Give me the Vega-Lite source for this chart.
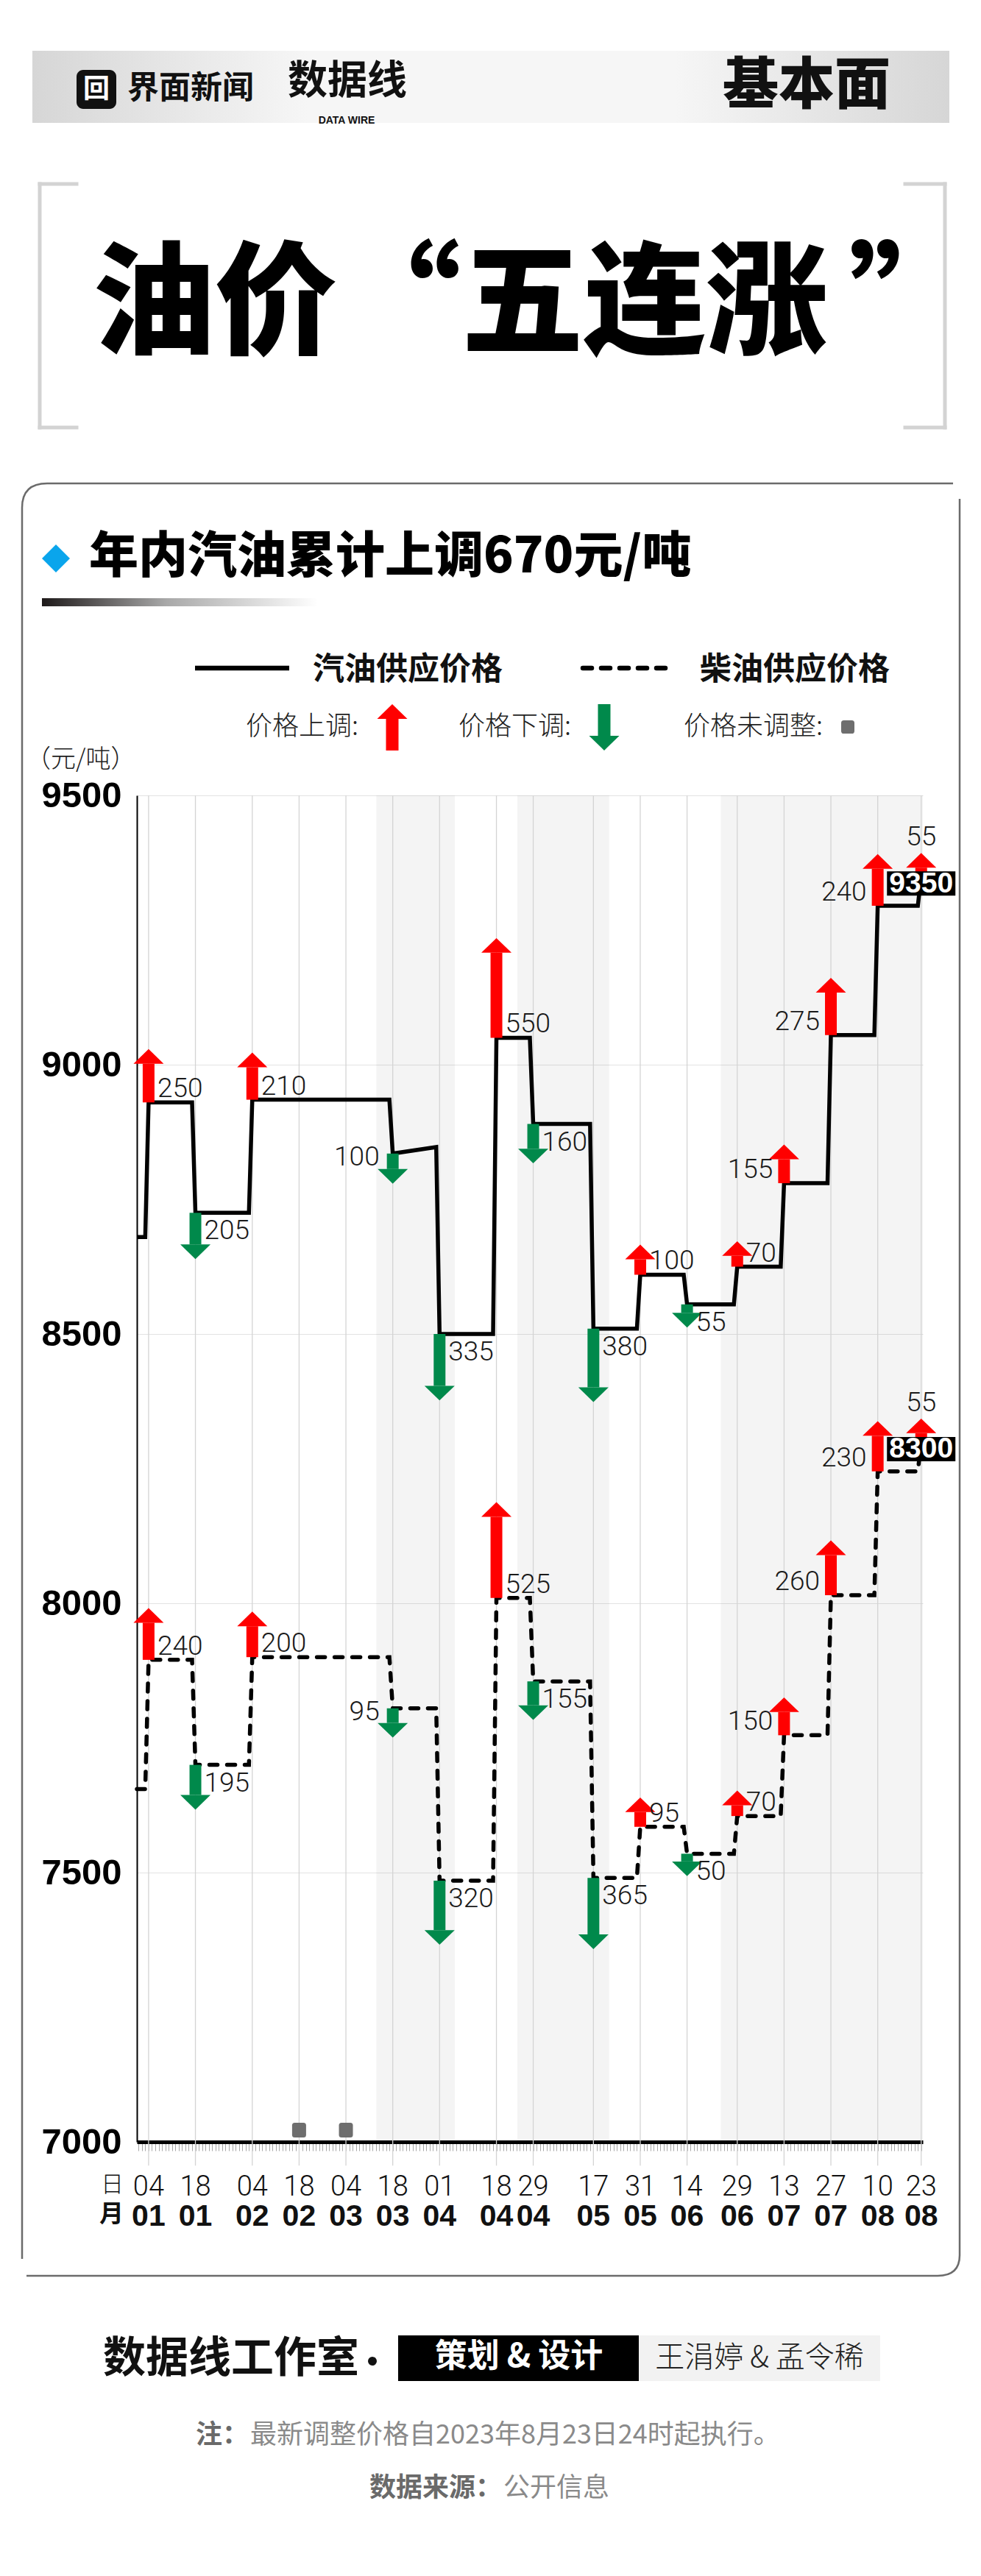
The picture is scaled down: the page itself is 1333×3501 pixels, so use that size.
{
"$schema":"https://vega.github.io/schema/vega-lite/v6.json",
"width":1068,"height":1830,
"autosize":{"type":"none"},
"padding":{"left":186,"top":1081,"right":79,"bottom":590},
"background":"#ffffff",
"config":{"view":{"stroke":null},"text":{"font":"Noto Sans CJK SC"}},
"datasets":{
"adj":[
{"date":"2023-01-04T00:00:00","fuel":"汽油","price":8930,"amount":250,"dir":"up"},
{"date":"2023-01-18T00:00:00","fuel":"汽油","price":8725,"amount":205,"dir":"down"},
{"date":"2023-02-04T00:00:00","fuel":"汽油","price":8935,"amount":210,"dir":"up"},
{"date":"2023-02-18T00:00:00","fuel":"汽油","price":8935,"amount":0,"dir":"flat"},
{"date":"2023-03-04T00:00:00","fuel":"汽油","price":8935,"amount":0,"dir":"flat"},
{"date":"2023-03-18T00:00:00","fuel":"汽油","price":8835,"amount":100,"dir":"down"},
{"date":"2023-04-01T00:00:00","fuel":"汽油","price":8500,"amount":335,"dir":"down"},
{"date":"2023-04-18T00:00:00","fuel":"汽油","price":9050,"amount":550,"dir":"up"},
{"date":"2023-04-29T00:00:00","fuel":"汽油","price":8890,"amount":160,"dir":"down"},
{"date":"2023-05-17T00:00:00","fuel":"汽油","price":8510,"amount":380,"dir":"down"},
{"date":"2023-05-31T00:00:00","fuel":"汽油","price":8610,"amount":100,"dir":"up"},
{"date":"2023-06-14T00:00:00","fuel":"汽油","price":8555,"amount":55,"dir":"down"},
{"date":"2023-06-29T00:00:00","fuel":"汽油","price":8625,"amount":70,"dir":"up"},
{"date":"2023-07-13T00:00:00","fuel":"汽油","price":8780,"amount":155,"dir":"up"},
{"date":"2023-07-27T00:00:00","fuel":"汽油","price":9055,"amount":275,"dir":"up"},
{"date":"2023-08-10T00:00:00","fuel":"汽油","price":9295,"amount":240,"dir":"up"},
{"date":"2023-08-23T00:00:00","fuel":"汽油","price":9350,"amount":55,"dir":"up"},
{"date":"2023-01-04T00:00:00","fuel":"柴油","price":7895,"amount":240,"dir":"up"},
{"date":"2023-01-18T00:00:00","fuel":"柴油","price":7700,"amount":195,"dir":"down"},
{"date":"2023-02-04T00:00:00","fuel":"柴油","price":7900,"amount":200,"dir":"up"},
{"date":"2023-02-18T00:00:00","fuel":"柴油","price":7900,"amount":0,"dir":"flat"},
{"date":"2023-03-04T00:00:00","fuel":"柴油","price":7900,"amount":0,"dir":"flat"},
{"date":"2023-03-18T00:00:00","fuel":"柴油","price":7805,"amount":95,"dir":"down"},
{"date":"2023-04-01T00:00:00","fuel":"柴油","price":7485,"amount":320,"dir":"down"},
{"date":"2023-04-18T00:00:00","fuel":"柴油","price":8010,"amount":525,"dir":"up"},
{"date":"2023-04-29T00:00:00","fuel":"柴油","price":7855,"amount":155,"dir":"down"},
{"date":"2023-05-17T00:00:00","fuel":"柴油","price":7490,"amount":365,"dir":"down"},
{"date":"2023-05-31T00:00:00","fuel":"柴油","price":7585,"amount":95,"dir":"up"},
{"date":"2023-06-14T00:00:00","fuel":"柴油","price":7535,"amount":50,"dir":"down"},
{"date":"2023-06-29T00:00:00","fuel":"柴油","price":7605,"amount":70,"dir":"up"},
{"date":"2023-07-13T00:00:00","fuel":"柴油","price":7755,"amount":150,"dir":"up"},
{"date":"2023-07-27T00:00:00","fuel":"柴油","price":8015,"amount":260,"dir":"up"},
{"date":"2023-08-10T00:00:00","fuel":"柴油","price":8245,"amount":230,"dir":"up"},
{"date":"2023-08-23T00:00:00","fuel":"柴油","price":8300,"amount":55,"dir":"up"}
],
"line":[
{"date":"2022-12-31T12:00:00","fuel":"汽油","price":8680},
{"date":"2023-01-03T00:00:00","fuel":"汽油","price":8680},
{"date":"2023-01-04T00:00:00","fuel":"汽油","price":8930},
{"date":"2023-01-17T00:00:00","fuel":"汽油","price":8930},
{"date":"2023-01-18T00:00:00","fuel":"汽油","price":8725},
{"date":"2023-02-03T00:00:00","fuel":"汽油","price":8725},
{"date":"2023-02-04T00:00:00","fuel":"汽油","price":8935},
{"date":"2023-03-17T00:00:00","fuel":"汽油","price":8935},
{"date":"2023-03-18T00:00:00","fuel":"汽油","price":8835},
{"date":"2023-03-31T00:00:00","fuel":"汽油","price":8847},
{"date":"2023-04-01T00:00:00","fuel":"汽油","price":8500},
{"date":"2023-04-17T00:00:00","fuel":"汽油","price":8500},
{"date":"2023-04-18T00:00:00","fuel":"汽油","price":9050},
{"date":"2023-04-28T00:00:00","fuel":"汽油","price":9050},
{"date":"2023-04-29T00:00:00","fuel":"汽油","price":8890},
{"date":"2023-05-16T00:00:00","fuel":"汽油","price":8890},
{"date":"2023-05-17T00:00:00","fuel":"汽油","price":8510},
{"date":"2023-05-30T00:00:00","fuel":"汽油","price":8510},
{"date":"2023-05-31T00:00:00","fuel":"汽油","price":8610},
{"date":"2023-06-13T00:00:00","fuel":"汽油","price":8610},
{"date":"2023-06-14T00:00:00","fuel":"汽油","price":8555},
{"date":"2023-06-28T00:00:00","fuel":"汽油","price":8555},
{"date":"2023-06-29T00:00:00","fuel":"汽油","price":8625},
{"date":"2023-07-12T00:00:00","fuel":"汽油","price":8625},
{"date":"2023-07-13T00:00:00","fuel":"汽油","price":8780},
{"date":"2023-07-26T00:00:00","fuel":"汽油","price":8780},
{"date":"2023-07-27T00:00:00","fuel":"汽油","price":9055},
{"date":"2023-08-09T00:00:00","fuel":"汽油","price":9055},
{"date":"2023-08-10T00:00:00","fuel":"汽油","price":9295},
{"date":"2023-08-22T00:00:00","fuel":"汽油","price":9295},
{"date":"2023-08-23T00:00:00","fuel":"汽油","price":9350},
{"date":"2022-12-31T12:00:00","fuel":"柴油","price":7655},
{"date":"2023-01-03T00:00:00","fuel":"柴油","price":7655},
{"date":"2023-01-04T00:00:00","fuel":"柴油","price":7895},
{"date":"2023-01-17T00:00:00","fuel":"柴油","price":7895},
{"date":"2023-01-18T00:00:00","fuel":"柴油","price":7700},
{"date":"2023-02-03T00:00:00","fuel":"柴油","price":7700},
{"date":"2023-02-04T00:00:00","fuel":"柴油","price":7900},
{"date":"2023-03-17T00:00:00","fuel":"柴油","price":7900},
{"date":"2023-03-18T00:00:00","fuel":"柴油","price":7805},
{"date":"2023-03-31T00:00:00","fuel":"柴油","price":7805},
{"date":"2023-04-01T00:00:00","fuel":"柴油","price":7485},
{"date":"2023-04-17T00:00:00","fuel":"柴油","price":7485},
{"date":"2023-04-18T00:00:00","fuel":"柴油","price":8010},
{"date":"2023-04-28T00:00:00","fuel":"柴油","price":8010},
{"date":"2023-04-29T00:00:00","fuel":"柴油","price":7855},
{"date":"2023-05-16T00:00:00","fuel":"柴油","price":7855},
{"date":"2023-05-17T00:00:00","fuel":"柴油","price":7490},
{"date":"2023-05-30T00:00:00","fuel":"柴油","price":7490},
{"date":"2023-05-31T00:00:00","fuel":"柴油","price":7585},
{"date":"2023-06-13T00:00:00","fuel":"柴油","price":7585},
{"date":"2023-06-14T00:00:00","fuel":"柴油","price":7535},
{"date":"2023-06-28T00:00:00","fuel":"柴油","price":7535},
{"date":"2023-06-29T00:00:00","fuel":"柴油","price":7605},
{"date":"2023-07-12T00:00:00","fuel":"柴油","price":7605},
{"date":"2023-07-13T00:00:00","fuel":"柴油","price":7755},
{"date":"2023-07-26T00:00:00","fuel":"柴油","price":7755},
{"date":"2023-07-27T00:00:00","fuel":"柴油","price":8015},
{"date":"2023-08-09T00:00:00","fuel":"柴油","price":8015},
{"date":"2023-08-10T00:00:00","fuel":"柴油","price":8245},
{"date":"2023-08-22T00:00:00","fuel":"柴油","price":8245},
{"date":"2023-08-23T00:00:00","fuel":"柴油","price":8300}
],
"bands":[
{"start":"2023-03-13T02:00:00","end":"2023-04-05T14:00:00"},
{"start":"2023-04-24T06:00:00","end":"2023-05-21T17:00:00"},
{"start":"2023-06-24T02:00:00","end":"2023-08-23T12:00:00"}
]
},
"resolve":{"scale":{"x":"independent","y":"independent"}},
"layer":[
{
"data":{"values":[{}]},
"layer":[
{"mark":{"type":"rect","fill":{"gradient":"linear","x1":0,"y1":0,"x2":1,"y2":0,"stops":[{"offset":0,"color":"#d6d6d6"},{"offset":0.3,"color":"#f6f6f6"},{"offset":0.7,"color":"#f6f6f6"},{"offset":1,"color":"#d6d6d6"}]}},
 "encoding":{"x":{"datum":44,"type":"quantitative","scale":{"domain":[186,1254],"nice":false,"zero":false},"axis":null},"x2":{"datum":1290},"y":{"datum":69,"type":"quantitative","scale":{"domain":[1081,2911],"nice":false,"zero":false,"reverse":true},"axis":null},"y2":{"datum":167}}},
{"mark":{"type":"rect","fill":"#111111","cornerRadius":9},
 "encoding":{"x":{"datum":104,"type":"quantitative","scale":{"domain":[186,1254],"nice":false,"zero":false},"axis":null},"x2":{"datum":158},"y":{"datum":95,"type":"quantitative","scale":{"domain":[1081,2911],"nice":false,"zero":false,"reverse":true},"axis":null},"y2":{"datum":148}}},
{"mark":{"type":"text","text":"回","fontSize":36,"fontWeight":700,"color":"#ffffff","align":"center","baseline":"middle"},
 "encoding":{"x":{"datum":131,"type":"quantitative","scale":{"domain":[186,1254],"nice":false,"zero":false},"axis":null},"y":{"datum":122,"type":"quantitative","scale":{"domain":[1081,2911],"nice":false,"zero":false,"reverse":true},"axis":null}}},
{"mark":{"type":"text","text":"界面新闻","fontSize":43,"fontWeight":700,"color":"#111111","align":"left","baseline":"middle"},
 "encoding":{"x":{"datum":173,"type":"quantitative","scale":{"domain":[186,1254],"nice":false,"zero":false},"axis":null},"y":{"datum":121,"type":"quantitative","scale":{"domain":[1081,2911],"nice":false,"zero":false,"reverse":true},"axis":null}}},
{"mark":{"type":"text","text":"数据线","fontSize":54,"fontWeight":700,"color":"#111111","align":"center","baseline":"middle"},
 "encoding":{"x":{"datum":472,"type":"quantitative","scale":{"domain":[186,1254],"nice":false,"zero":false},"axis":null},"y":{"datum":112,"type":"quantitative","scale":{"domain":[1081,2911],"nice":false,"zero":false,"reverse":true},"axis":null}}},
{"mark":{"type":"text","text":"DATA WIRE","font":"Liberation Sans","fontSize":14,"fontWeight":700,"color":"#111111","align":"center","baseline":"middle"},
 "encoding":{"x":{"datum":471,"type":"quantitative","scale":{"domain":[186,1254],"nice":false,"zero":false},"axis":null},"y":{"datum":164,"type":"quantitative","scale":{"domain":[1081,2911],"nice":false,"zero":false,"reverse":true},"axis":null}}},
{"mark":{"type":"text","text":"基本面","fontSize":76,"fontWeight":900,"color":"#111111","align":"center","baseline":"middle"},
 "encoding":{"x":{"datum":1096,"type":"quantitative","scale":{"domain":[186,1254],"nice":false,"zero":false},"axis":null},"y":{"datum":118,"type":"quantitative","scale":{"domain":[1081,2911],"nice":false,"zero":false,"reverse":true},"axis":null}}},
{"mark":{"type":"rule","color":"#d3d3d3","strokeWidth":5,"strokeCap":"square"},
 "encoding":{"x":{"datum":54,"type":"quantitative","scale":{"domain":[186,1254],"nice":false,"zero":false},"axis":null},"x2":{"datum":104},"y":{"datum":250,"type":"quantitative","scale":{"domain":[1081,2911],"nice":false,"zero":false,"reverse":true},"axis":null}}},
{"mark":{"type":"rule","color":"#d3d3d3","strokeWidth":5,"strokeCap":"square"},
 "encoding":{"x":{"datum":54,"type":"quantitative","scale":{"domain":[186,1254],"nice":false,"zero":false},"axis":null},"y":{"datum":250,"type":"quantitative","scale":{"domain":[1081,2911],"nice":false,"zero":false,"reverse":true},"axis":null},"y2":{"datum":581}}},
{"mark":{"type":"rule","color":"#d3d3d3","strokeWidth":5,"strokeCap":"square"},
 "encoding":{"x":{"datum":54,"type":"quantitative","scale":{"domain":[186,1254],"nice":false,"zero":false},"axis":null},"x2":{"datum":104},"y":{"datum":581,"type":"quantitative","scale":{"domain":[1081,2911],"nice":false,"zero":false,"reverse":true},"axis":null}}},
{"mark":{"type":"rule","color":"#d3d3d3","strokeWidth":5,"strokeCap":"square"},
 "encoding":{"x":{"datum":1230,"type":"quantitative","scale":{"domain":[186,1254],"nice":false,"zero":false},"axis":null},"x2":{"datum":1284},"y":{"datum":250,"type":"quantitative","scale":{"domain":[1081,2911],"nice":false,"zero":false,"reverse":true},"axis":null}}},
{"mark":{"type":"rule","color":"#d3d3d3","strokeWidth":5,"strokeCap":"square"},
 "encoding":{"x":{"datum":1284,"type":"quantitative","scale":{"domain":[186,1254],"nice":false,"zero":false},"axis":null},"y":{"datum":250,"type":"quantitative","scale":{"domain":[1081,2911],"nice":false,"zero":false,"reverse":true},"axis":null},"y2":{"datum":581}}},
{"mark":{"type":"rule","color":"#d3d3d3","strokeWidth":5,"strokeCap":"square"},
 "encoding":{"x":{"datum":1230,"type":"quantitative","scale":{"domain":[186,1254],"nice":false,"zero":false},"axis":null},"x2":{"datum":1284},"y":{"datum":581,"type":"quantitative","scale":{"domain":[1081,2911],"nice":false,"zero":false,"reverse":true},"axis":null}}},
{"mark":{"type":"text","text":"油价","fontSize":166,"fontWeight":900,"color":"#000000","align":"left","baseline":"middle"},
 "encoding":{"x":{"datum":126,"type":"quantitative","scale":{"domain":[186,1254],"nice":false,"zero":false},"axis":null},"y":{"datum":418,"type":"quantitative","scale":{"domain":[1081,2911],"nice":false,"zero":false,"reverse":true},"axis":null}}},
{"mark":{"type":"text","text":"“","fontSize":166,"fontWeight":900,"color":"#000000","align":"center","baseline":"middle"},
 "encoding":{"x":{"datum":543,"type":"quantitative","scale":{"domain":[186,1254],"nice":false,"zero":false},"axis":null},"y":{"datum":418,"type":"quantitative","scale":{"domain":[1081,2911],"nice":false,"zero":false,"reverse":true},"axis":null}}},
{"mark":{"type":"text","text":"五连涨","fontSize":166,"fontWeight":900,"color":"#000000","align":"left","baseline":"middle"},
 "encoding":{"x":{"datum":627,"type":"quantitative","scale":{"domain":[186,1254],"nice":false,"zero":false},"axis":null},"y":{"datum":418,"type":"quantitative","scale":{"domain":[1081,2911],"nice":false,"zero":false,"reverse":true},"axis":null}}},
{"mark":{"type":"text","text":"”","fontSize":166,"fontWeight":900,"color":"#000000","align":"center","baseline":"middle"},
 "encoding":{"x":{"datum":1237,"type":"quantitative","scale":{"domain":[186,1254],"nice":false,"zero":false},"axis":null},"y":{"datum":418,"type":"quantitative","scale":{"domain":[1081,2911],"nice":false,"zero":false,"reverse":true},"axis":null}}},
{"mark":{"type":"point","shape":"M-1,1.8776L-1,-1.8587Q-1,-1.9105,-0.9466,-1.9105L0.9859,-1.9105M1,-1.8776L1,1.8697Q1,1.9137,0.9529,1.9137L-0.9906,1.9137","size":1623076,"filled":false,"color":"#6b6b6b","strokeWidth":2.5,"opacity":1},
 "encoding":{"x":{"datum":667,"type":"quantitative","scale":{"domain":[186,1254],"nice":false,"zero":false},"axis":null},"y":{"datum":1874,"type":"quantitative","scale":{"domain":[1081,2911],"nice":false,"zero":false,"reverse":true},"axis":null}}},
{"mark":{"type":"point","shape":"diamond","size":1444,"filled":true,"color":"#0aa5ec","opacity":1,"strokeWidth":0},
 "encoding":{"x":{"datum":76,"type":"quantitative","scale":{"domain":[186,1254],"nice":false,"zero":false},"axis":null},"y":{"datum":759,"type":"quantitative","scale":{"domain":[1081,2911],"nice":false,"zero":false,"reverse":true},"axis":null}}},
{"mark":{"type":"text","text":"年内汽油累计上调670元/吨","fontSize":67,"fontWeight":900,"color":"#000000","align":"left","baseline":"middle"},
 "encoding":{"x":{"datum":121,"type":"quantitative","scale":{"domain":[186,1254],"nice":false,"zero":false},"axis":null},"y":{"datum":758,"type":"quantitative","scale":{"domain":[1081,2911],"nice":false,"zero":false,"reverse":true},"axis":null}}},
{"mark":{"type":"rect","fill":{"gradient":"linear","x1":0,"y1":0,"x2":1,"y2":0,"stops":[{"offset":0,"color":"#1e1a1a"},{"offset":0.45,"color":"#a8a8a8"},{"offset":1,"color":"#ffffff"}]}},
 "encoding":{"x":{"datum":57,"type":"quantitative","scale":{"domain":[186,1254],"nice":false,"zero":false},"axis":null},"x2":{"datum":432},"y":{"datum":813,"type":"quantitative","scale":{"domain":[1081,2911],"nice":false,"zero":false,"reverse":true},"axis":null},"y2":{"datum":824}}},
{"mark":{"type":"rule","color":"#000000","strokeWidth":6.5},
 "encoding":{"x":{"datum":265,"type":"quantitative","scale":{"domain":[186,1254],"nice":false,"zero":false},"axis":null},"x2":{"datum":393},"y":{"datum":908,"type":"quantitative","scale":{"domain":[1081,2911],"nice":false,"zero":false,"reverse":true},"axis":null}}},
{"mark":{"type":"text","text":"汽油供应价格","fontSize":43,"fontWeight":700,"color":"#111111","align":"left","baseline":"middle"},
 "encoding":{"x":{"datum":425,"type":"quantitative","scale":{"domain":[186,1254],"nice":false,"zero":false},"axis":null},"y":{"datum":911,"type":"quantitative","scale":{"domain":[1081,2911],"nice":false,"zero":false,"reverse":true},"axis":null}}},
{"mark":{"type":"rule","color":"#000000","strokeWidth":6.5,"strokeDash":[12,13],"strokeCap":"round"},
 "encoding":{"x":{"datum":792,"type":"quantitative","scale":{"domain":[186,1254],"nice":false,"zero":false},"axis":null},"x2":{"datum":917},"y":{"datum":908,"type":"quantitative","scale":{"domain":[1081,2911],"nice":false,"zero":false,"reverse":true},"axis":null}}},
{"mark":{"type":"text","text":"柴油供应价格","fontSize":43,"fontWeight":700,"color":"#111111","align":"left","baseline":"middle"},
 "encoding":{"x":{"datum":951,"type":"quantitative","scale":{"domain":[186,1254],"nice":false,"zero":false},"axis":null},"y":{"datum":911,"type":"quantitative","scale":{"domain":[1081,2911],"nice":false,"zero":false,"reverse":true},"axis":null}}},
{"mark":{"type":"text","text":"价格上调:","fontSize":36,"fontWeight":300,"color":"#222222","align":"left","baseline":"middle"},
 "encoding":{"x":{"datum":334,"type":"quantitative","scale":{"domain":[186,1254],"nice":false,"zero":false},"axis":null},"y":{"datum":988,"type":"quantitative","scale":{"domain":[1081,2911],"nice":false,"zero":false,"reverse":true},"axis":null}}},
{"mark":{"type":"rule","color":"#ff0000","strokeWidth":17,"strokeCap":"butt"},
 "encoding":{"x":{"datum":533,"type":"quantitative","scale":{"domain":[186,1254],"nice":false,"zero":false},"axis":null},"y":{"datum":977,"type":"quantitative","scale":{"domain":[1081,2911],"nice":false,"zero":false,"reverse":true},"axis":null},"y2":{"datum":1020}}},
{"mark":{"type":"point","shape":"M-1,0L1,0L0,-0.97Z","size":1681,"filled":true,"color":"#ff0000","opacity":1,"strokeWidth":0},
 "encoding":{"x":{"datum":533,"type":"quantitative","scale":{"domain":[186,1254],"nice":false,"zero":false},"axis":null},"y":{"datum":977,"type":"quantitative","scale":{"domain":[1081,2911],"nice":false,"zero":false,"reverse":true},"axis":null}}},
{"mark":{"type":"text","text":"价格下调:","fontSize":36,"fontWeight":300,"color":"#222222","align":"left","baseline":"middle"},
 "encoding":{"x":{"datum":623,"type":"quantitative","scale":{"domain":[186,1254],"nice":false,"zero":false},"axis":null},"y":{"datum":988,"type":"quantitative","scale":{"domain":[1081,2911],"nice":false,"zero":false,"reverse":true},"axis":null}}},
{"mark":{"type":"rule","color":"#00894b","strokeWidth":17,"strokeCap":"butt"},
 "encoding":{"x":{"datum":821,"type":"quantitative","scale":{"domain":[186,1254],"nice":false,"zero":false},"axis":null},"y":{"datum":957,"type":"quantitative","scale":{"domain":[1081,2911],"nice":false,"zero":false,"reverse":true},"axis":null},"y2":{"datum":1000}}},
{"mark":{"type":"point","shape":"M-1,0L1,0L0,0.97Z","size":1681,"filled":true,"color":"#00894b","opacity":1,"strokeWidth":0},
 "encoding":{"x":{"datum":821,"type":"quantitative","scale":{"domain":[186,1254],"nice":false,"zero":false},"axis":null},"y":{"datum":1000,"type":"quantitative","scale":{"domain":[1081,2911],"nice":false,"zero":false,"reverse":true},"axis":null}}},
{"mark":{"type":"text","text":"价格未调整:","fontSize":36,"fontWeight":300,"color":"#222222","align":"left","baseline":"middle"},
 "encoding":{"x":{"datum":929,"type":"quantitative","scale":{"domain":[186,1254],"nice":false,"zero":false},"axis":null},"y":{"datum":988,"type":"quantitative","scale":{"domain":[1081,2911],"nice":false,"zero":false,"reverse":true},"axis":null}}},
{"mark":{"type":"point","shape":"M-0.6,-1L0.6,-1Q1,-1,1,-0.6L1,0.6Q1,1,0.6,1L-0.6,1Q-1,1,-1,0.6L-1,-0.6Q-1,-1,-0.6,-1Z","size":324,"filled":true,"color":"#6e6e6e","opacity":1,"strokeWidth":0},
 "encoding":{"x":{"datum":1152,"type":"quantitative","scale":{"domain":[186,1254],"nice":false,"zero":false},"axis":null},"y":{"datum":988,"type":"quantitative","scale":{"domain":[1081,2911],"nice":false,"zero":false,"reverse":true},"axis":null}}},
{"mark":{"type":"text","text":"（元/吨）","fontSize":34,"fontWeight":300,"color":"#222222","align":"left","baseline":"middle"},
 "encoding":{"x":{"datum":35,"type":"quantitative","scale":{"domain":[186,1254],"nice":false,"zero":false},"axis":null},"y":{"datum":1033,"type":"quantitative","scale":{"domain":[1081,2911],"nice":false,"zero":false,"reverse":true},"axis":null}}},
{"mark":{"type":"text","text":"日","fontSize":31,"fontWeight":300,"color":"#111111","align":"right","baseline":"middle"},
 "encoding":{"x":{"datum":168,"type":"quantitative","scale":{"domain":[186,1254],"nice":false,"zero":false},"axis":null},"y":{"datum":2970,"type":"quantitative","scale":{"domain":[1081,2911],"nice":false,"zero":false,"reverse":true},"axis":null}}},
{"mark":{"type":"text","text":"月","fontSize":33,"fontWeight":700,"color":"#111111","align":"right","baseline":"middle"},
 "encoding":{"x":{"datum":168,"type":"quantitative","scale":{"domain":[186,1254],"nice":false,"zero":false},"axis":null},"y":{"datum":3010,"type":"quantitative","scale":{"domain":[1081,2911],"nice":false,"zero":false,"reverse":true},"axis":null}}},
{"mark":{"type":"text","text":"数据线工作室","fontSize":58,"fontWeight":700,"color":"#111111","align":"left","baseline":"middle"},
 "encoding":{"x":{"datum":140,"type":"quantitative","scale":{"domain":[186,1254],"nice":false,"zero":false},"axis":null},"y":{"datum":3207,"type":"quantitative","scale":{"domain":[1081,2911],"nice":false,"zero":false,"reverse":true},"axis":null}}},
{"mark":{"type":"point","shape":"circle","size":144,"filled":true,"color":"#111111","opacity":1,"strokeWidth":0},
 "encoding":{"x":{"datum":506,"type":"quantitative","scale":{"domain":[186,1254],"nice":false,"zero":false},"axis":null},"y":{"datum":3209,"type":"quantitative","scale":{"domain":[1081,2911],"nice":false,"zero":false,"reverse":true},"axis":null}}},
{"mark":{"type":"rect","fill":"#000000"},
 "encoding":{"x":{"datum":541,"type":"quantitative","scale":{"domain":[186,1254],"nice":false,"zero":false},"axis":null},"x2":{"datum":868},"y":{"datum":3174,"type":"quantitative","scale":{"domain":[1081,2911],"nice":false,"zero":false,"reverse":true},"axis":null},"y2":{"datum":3236}}},
{"mark":{"type":"text","text":"策划 & 设计","fontSize":44,"fontWeight":700,"color":"#ffffff","align":"center","baseline":"middle"},
 "encoding":{"x":{"datum":705,"type":"quantitative","scale":{"domain":[186,1254],"nice":false,"zero":false},"axis":null},"y":{"datum":3204,"type":"quantitative","scale":{"domain":[1081,2911],"nice":false,"zero":false,"reverse":true},"axis":null}}},
{"mark":{"type":"rect","fill":"#f2f2f2"},
 "encoding":{"x":{"datum":868,"type":"quantitative","scale":{"domain":[186,1254],"nice":false,"zero":false},"axis":null},"x2":{"datum":1196},"y":{"datum":3174,"type":"quantitative","scale":{"domain":[1081,2911],"nice":false,"zero":false,"reverse":true},"axis":null},"y2":{"datum":3236}}},
{"mark":{"type":"text","text":"王涓婷 & 孟令稀","fontSize":40,"fontWeight":300,"color":"#222222","align":"center","baseline":"middle"},
 "encoding":{"x":{"datum":1032,"type":"quantitative","scale":{"domain":[186,1254],"nice":false,"zero":false},"axis":null},"y":{"datum":3205,"type":"quantitative","scale":{"domain":[1081,2911],"nice":false,"zero":false,"reverse":true},"axis":null}}},
{"mark":{"type":"text","text":"注：","fontSize":36,"fontWeight":700,"color":"#6a6a6a","align":"right","baseline":"middle"},
 "encoding":{"x":{"datum":338,"type":"quantitative","scale":{"domain":[186,1254],"nice":false,"zero":false},"axis":null},"y":{"datum":3310,"type":"quantitative","scale":{"domain":[1081,2911],"nice":false,"zero":false,"reverse":true},"axis":null}}},
{"mark":{"type":"text","text":"最新调整价格自2023年8月23日24时起执行。","fontSize":36,"fontWeight":400,"color":"#8a8a8a","align":"left","baseline":"middle"},
 "encoding":{"x":{"datum":340,"type":"quantitative","scale":{"domain":[186,1254],"nice":false,"zero":false},"axis":null},"y":{"datum":3310,"type":"quantitative","scale":{"domain":[1081,2911],"nice":false,"zero":false,"reverse":true},"axis":null}}},
{"mark":{"type":"text","text":"数据来源：","fontSize":36,"fontWeight":700,"color":"#6a6a6a","align":"right","baseline":"middle"},
 "encoding":{"x":{"datum":682,"type":"quantitative","scale":{"domain":[186,1254],"nice":false,"zero":false},"axis":null},"y":{"datum":3382,"type":"quantitative","scale":{"domain":[1081,2911],"nice":false,"zero":false,"reverse":true},"axis":null}}},
{"mark":{"type":"text","text":"公开信息","fontSize":36,"fontWeight":400,"color":"#8a8a8a","align":"left","baseline":"middle"},
 "encoding":{"x":{"datum":684,"type":"quantitative","scale":{"domain":[186,1254],"nice":false,"zero":false},"axis":null},"y":{"datum":3382,"type":"quantitative","scale":{"domain":[1081,2911],"nice":false,"zero":false,"reverse":true},"axis":null}}}
]
},
{
"data":{"name":"adj","format":{"parse":{"date":"date"}}},
"layer":[
{"data":{"name":"bands","format":{"parse":{"start":"date","end":"date"}}},
 "mark":{"type":"rect","color":"#000000","opacity":0.045},
 "encoding":{"x":{"field":"start","type":"temporal","title":null,"scale":{"domain":[{"year":2022,"month":12,"date":31,"hours":12},{"year":2023,"month":8,"date":23,"hours":12}]}},"x2":{"field":"end"},
 "y":{"datum":9500,"type":"quantitative","title":null,"scale":{"domain":[7000,9500],"nice":false,"zero":false}},"y2":{"datum":7000}}},
{"transform":[{"filter":"datum.fuel === '汽油'"}],
 "mark":{"type":"rule","color":"#d4d4d4","strokeWidth":1.3},
 "encoding":{"x":{"field":"date","type":"temporal","title":null,"scale":{"domain":[{"year":2022,"month":12,"date":31,"hours":12},{"year":2023,"month":8,"date":23,"hours":12}]}},
 "y":{"datum":9500,"type":"quantitative","title":null,"scale":{"domain":[7000,9500],"nice":false,"zero":false}},"y2":{"datum":6956}}},
{"data":{"name":"line","format":{"parse":{"date":"date"}}},
 "transform":[{"filter":"datum.fuel === '汽油'"}],
 "mark":{"type":"line","color":"#000000","strokeWidth":5.5,"strokeJoin":"miter"},
 "encoding":{"x":{"field":"date","type":"temporal","title":null,"scale":{"domain":[{"year":2022,"month":12,"date":31,"hours":12},{"year":2023,"month":8,"date":23,"hours":12}]},
   "axis":{"title":null,"labels":false,"grid":false,"tickCount":{"interval":"day","step":1},"tickSize":12,"tickWidth":1,"tickColor":"#a6a6a6","domainColor":"#000000","domainWidth":5}},
 "y":{"field":"price","type":"quantitative","title":null,"scale":{"domain":[7000,9500],"nice":false,"zero":false},
   "axis":{"title":null,"values":[7000,7500,8000,8500,9000,9500],"format":"d","grid":true,"gridColor":"#e3e3e3","gridWidth":1,"ticks":false,"labelPadding":21,"labelFont":"Liberation Sans","labelFontWeight":"bold","labelFontSize":49,"labelColor":"#000000","domainColor":"#000000","domainWidth":2}}}},
{"data":{"name":"line","format":{"parse":{"date":"date"}}},
 "transform":[{"filter":"datum.fuel === '柴油'"}],
 "mark":{"type":"line","color":"#000000","strokeWidth":5.5,"strokeDash":[11,13],"strokeCap":"round"},
 "encoding":{"x":{"field":"date","type":"temporal","title":null,"scale":{"domain":[{"year":2022,"month":12,"date":31,"hours":12},{"year":2023,"month":8,"date":23,"hours":12}]}},
 "y":{"field":"price","type":"quantitative","title":null,"scale":{"domain":[7000,9500],"nice":false,"zero":false}}}},
{"transform":[{"filter":"datum.dir !== 'flat'"},{"calculate":"datum.price + (datum.dir === 'up' ? 1 : -1) * datum.amount * 0.287","as":"tip"}],
 "mark":{"type":"rule","strokeWidth":16,"strokeCap":"butt"},
 "encoding":{"x":{"field":"date","type":"temporal","title":null,"scale":{"domain":[{"year":2022,"month":12,"date":31,"hours":12},{"year":2023,"month":8,"date":23,"hours":12}]}},
 "y":{"field":"price","type":"quantitative","title":null,"scale":{"domain":[7000,9500],"nice":false,"zero":false}},"y2":{"field":"tip"},
 "color":{"condition":{"test":"datum.dir === 'up'","value":"#ff0000"},"value":"#00894b"}}},
{"transform":[{"filter":"datum.dir === 'up'"},{"calculate":"datum.price + datum.amount * 0.287","as":"tip"}],
 "mark":{"type":"point","shape":"M-1,0L1,0L0,-0.97Z","size":1681,"filled":true,"color":"#ff0000","opacity":1,"strokeWidth":0},
 "encoding":{"x":{"field":"date","type":"temporal","title":null,"scale":{"domain":[{"year":2022,"month":12,"date":31,"hours":12},{"year":2023,"month":8,"date":23,"hours":12}]}},
 "y":{"field":"tip","type":"quantitative","title":null,"scale":{"domain":[7000,9500],"nice":false,"zero":false}}}},
{"transform":[{"filter":"datum.dir === 'down'"},{"calculate":"datum.price - datum.amount * 0.287","as":"tip"}],
 "mark":{"type":"point","shape":"M-1,0L1,0L0,0.97Z","size":1681,"filled":true,"color":"#00894b","opacity":1,"strokeWidth":0},
 "encoding":{"x":{"field":"date","type":"temporal","title":null,"scale":{"domain":[{"year":2022,"month":12,"date":31,"hours":12},{"year":2023,"month":8,"date":23,"hours":12}]}},
 "y":{"field":"tip","type":"quantitative","title":null,"scale":{"domain":[7000,9500],"nice":false,"zero":false}}}},
{"transform":[{"filter":"datum.dir === 'up' && datum.date < datetime(2023,6,13)"}],
 "mark":{"type":"text","font":"Roboto","fontWeight":300,"fontSize":37,"color":"#1a1a1a","align":"left","baseline":"alphabetic","dx":12,"dy":-7},
 "encoding":{"x":{"field":"date","type":"temporal","title":null,"scale":{"domain":[{"year":2022,"month":12,"date":31,"hours":12},{"year":2023,"month":8,"date":23,"hours":12}]}},
 "y":{"field":"price","type":"quantitative","title":null,"scale":{"domain":[7000,9500],"nice":false,"zero":false}},
 "text":{"field":"amount","type":"quantitative","format":"d"}}},
{"transform":[{"filter":"datum.dir === 'down' && month(datum.date) !== 2"}],
 "mark":{"type":"text","font":"Roboto","fontWeight":300,"fontSize":37,"color":"#1a1a1a","align":"left","baseline":"top","dx":12,"dy":7},
 "encoding":{"x":{"field":"date","type":"temporal","title":null,"scale":{"domain":[{"year":2022,"month":12,"date":31,"hours":12},{"year":2023,"month":8,"date":23,"hours":12}]}},
 "y":{"field":"price","type":"quantitative","title":null,"scale":{"domain":[7000,9500],"nice":false,"zero":false}},
 "text":{"field":"amount","type":"quantitative","format":"d"}}},
{"transform":[{"filter":"datum.dir === 'up' && datum.date >= datetime(2023,6,13) && datum.date < datetime(2023,7,20)"}],
 "mark":{"type":"text","font":"Roboto","fontWeight":300,"fontSize":37,"color":"#1a1a1a","align":"right","baseline":"alphabetic","dx":-15,"dy":-7},
 "encoding":{"x":{"field":"date","type":"temporal","title":null,"scale":{"domain":[{"year":2022,"month":12,"date":31,"hours":12},{"year":2023,"month":8,"date":23,"hours":12}]}},
 "y":{"field":"price","type":"quantitative","title":null,"scale":{"domain":[7000,9500],"nice":false,"zero":false}},
 "text":{"field":"amount","type":"quantitative","format":"d"}}},
{"transform":[{"filter":"datum.dir === 'down' && month(datum.date) === 2"}],
 "mark":{"type":"text","font":"Roboto","fontWeight":300,"fontSize":37,"color":"#1a1a1a","align":"right","baseline":"middle","dx":-18,"dy":5},
 "encoding":{"x":{"field":"date","type":"temporal","title":null,"scale":{"domain":[{"year":2022,"month":12,"date":31,"hours":12},{"year":2023,"month":8,"date":23,"hours":12}]}},
 "y":{"field":"price","type":"quantitative","title":null,"scale":{"domain":[7000,9500],"nice":false,"zero":false}},
 "text":{"field":"amount","type":"quantitative","format":"d"}}},
{"transform":[{"filter":"datum.date >= datetime(2023,7,20)"},{"calculate":"datum.price + datum.amount * 0.287","as":"tip"}],
 "mark":{"type":"text","font":"Roboto","fontWeight":300,"fontSize":37,"color":"#1a1a1a","align":"center","baseline":"alphabetic","dy":-30},
 "encoding":{"x":{"field":"date","type":"temporal","title":null,"scale":{"domain":[{"year":2022,"month":12,"date":31,"hours":12},{"year":2023,"month":8,"date":23,"hours":12}]}},
 "y":{"field":"tip","type":"quantitative","title":null,"scale":{"domain":[7000,9500],"nice":false,"zero":false}},
 "text":{"field":"amount","type":"quantitative","format":"d"}}},
{"transform":[{"filter":"datum.date >= datetime(2023,7,20)"}],
 "mark":{"type":"point","shape":"M-1,-0.14L1,-0.14L1,0.57L-1,0.57Z","size":8649,"filled":true,"color":"#000000","opacity":1,"strokeWidth":0},
 "encoding":{"x":{"field":"date","type":"temporal","title":null,"scale":{"domain":[{"year":2022,"month":12,"date":31,"hours":12},{"year":2023,"month":8,"date":23,"hours":12}]}},
 "y":{"field":"price","type":"quantitative","title":null,"scale":{"domain":[7000,9500],"nice":false,"zero":false}}}},
{"transform":[{"filter":"datum.date >= datetime(2023,7,20)"}],
 "mark":{"type":"text","font":"Liberation Sans","fontWeight":"bold","fontSize":39,"color":"#ffffff","align":"center","baseline":"middle","dy":10},
 "encoding":{"x":{"field":"date","type":"temporal","title":null,"scale":{"domain":[{"year":2022,"month":12,"date":31,"hours":12},{"year":2023,"month":8,"date":23,"hours":12}]}},
 "y":{"field":"price","type":"quantitative","title":null,"scale":{"domain":[7000,9500],"nice":false,"zero":false}},
 "text":{"field":"price","type":"quantitative","format":"d"}}},
{"transform":[{"filter":"datum.dir === 'flat' && datum.fuel === '汽油'"}],
 "mark":{"type":"point","shape":"M-0.6,-2.6L0.6,-2.6Q0.95,-2.6,0.95,-2.25L0.95,-0.95Q0.95,-0.6,0.6,-0.6L-0.6,-0.6Q-0.95,-0.6,-0.95,-0.95L-0.95,-2.25Q-0.95,-2.6,-0.6,-2.6Z","size":400,"filled":true,"color":"#6e6e6e","opacity":1,"strokeWidth":0},
 "encoding":{"x":{"field":"date","type":"temporal","title":null,"scale":{"domain":[{"year":2022,"month":12,"date":31,"hours":12},{"year":2023,"month":8,"date":23,"hours":12}]}},
 "y":{"datum":7000,"type":"quantitative","title":null,"scale":{"domain":[7000,9500],"nice":false,"zero":false}}}},
{"transform":[{"filter":"datum.fuel === '汽油'"}],
 "mark":{"type":"text","font":"Roboto","fontWeight":300,"fontSize":38,"color":"#111111","align":"center","baseline":"alphabetic","dy":73},
 "encoding":{"x":{"field":"date","type":"temporal","title":null,"scale":{"domain":[{"year":2022,"month":12,"date":31,"hours":12},{"year":2023,"month":8,"date":23,"hours":12}]}},
 "y":{"datum":7000,"type":"quantitative","title":null,"scale":{"domain":[7000,9500],"nice":false,"zero":false}},
 "text":{"field":"date","type":"temporal","format":"%d"}}},
{"transform":[{"filter":"datum.fuel === '汽油'"}],
 "mark":{"type":"text","font":"'Liberation Sans Narrow', 'Liberation Sans', sans-serif","fontWeight":"bold","fontSize":41,"color":"#111111","align":"center","baseline":"alphabetic","dy":114},
 "encoding":{"x":{"field":"date","type":"temporal","title":null,"scale":{"domain":[{"year":2022,"month":12,"date":31,"hours":12},{"year":2023,"month":8,"date":23,"hours":12}]}},
 "y":{"datum":7000,"type":"quantitative","title":null,"scale":{"domain":[7000,9500],"nice":false,"zero":false}},
 "text":{"field":"date","type":"temporal","format":"%m"}}}
]
}
]
}
